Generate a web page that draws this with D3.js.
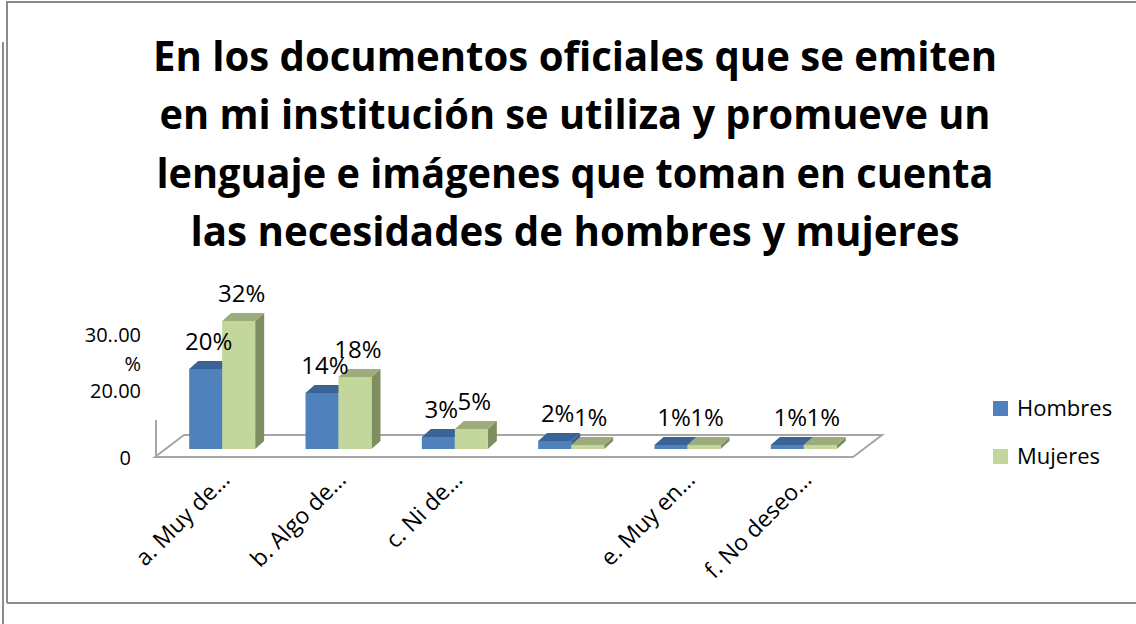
<!DOCTYPE html>
<html>
<head>
<meta charset="utf-8">
<script src="https://cdn.jsdelivr.net/npm/d3@7"></script>
<style>
  html, body { margin: 0; padding: 0; background: #fff; }
  svg { display: block; }
</style>
</head>
<body>
<div id="chart"></div>
<script>
// datos del grafico
const titleLines = [
    "En los documentos oficiales que se emiten",
    "en mi institución se utiliza y promueve un",
    "lenguaje e imágenes que toman en cuenta",
    "las necesidades de hombres y mujeres"
];
const categories = ["a", "b", "c", "d", "e", "f"];
const categoryLabels = ["a. Muy de…", "b. Algo de…", "c. Ni de…", "", "e. Muy en…", "f. No deseo…"];
const series = ["Hombres", "Mujeres"];
const hombres = [20, 14, 3, 2, 1, 1];
const mujeres = [32, 18, 5, 1, 1, 1];
const tickValues = [0, 20, 30];
const tickLabels = ["0", "20.00", "30..00|%"];

const width = 1136, height = 624;
const font = "'Open Sans', 'DejaVu Sans', sans-serif";

const colors = {
    Hombres: { front: "#4F81BD", top: "#3B6496", side: "#395F8F" },
    Mujeres: { front: "#C3D69B", top: "#9CAD7B", side: "#7F8E60" }
};

const svg = d3.select("#chart").append("svg")
    .attr("width", width)
    .attr("height", height);

// marcos
const frame = svg.append("g").attr("fill", "none").attr("stroke", "#8C8C8C").attr("stroke-width", 2);
frame.append("path").attr("d", "M7,603 L7,2 L1136,2");
frame.append("path").attr("d", "M7,603 L1136,603");
frame.append("path").attr("d", "M3,42 L3,624");

// titulo
svg.append("g")
    .selectAll("text")
    .data(titleLines)
    .enter().append("text")
    .attr("x", 575)
    .attr("y", (d, i) => 71 + i * 58.3)
    .attr("text-anchor", "middle")
    .attr("font-family", font)
    .attr("font-weight", "bold")
    .attr("font-size", 42)
    .attr("textLength", (d, i) => [844, 831, 837, 769][i])
    .attr("lengthAdjust", "spacingAndGlyphs")
    .attr("fill", "#000")
    .text(d => d);

// escalas
const depth = { dx: 9, dy: 8 };        // profundidad de las barras
const floorDepth = { dx: 29, dy: 22 }; // profundidad del piso

const x = d3.scaleBand().domain(categories).range([164, 862]);
const barWidth = 33;
const xs = d3.scaleBand().domain(series).range([0, barWidth * 2]);
const y = d3.scaleLinear().domain([0, 35]).range([449, 309]);
const yTick = d3.scaleLinear().domain([0, 20]).range([458, 391]);

// piso
const fx0 = x.range()[0] - depth.dx, fx1 = x.range()[1] - depth.dx;
const fy = y(0) + depth.dy;
const floor = svg.append("g").attr("fill", "none").attr("stroke", "#A6A6A6").attr("stroke-width", 2);
floor.append("path")
    .attr("fill", "#fff")
    .attr("d", `M${fx0},${fy} L${fx1},${fy} L${fx1 + floorDepth.dx},${fy - floorDepth.dy} L${fx0 + floorDepth.dx},${fy - floorDepth.dy} Z`);
floor.append("path")
    .attr("d", `M${fx0 + 1},${fy} L${fx0 + 1},${fy - 37}`);

// barras
const rows = categories.map((c, i) => ({ cat: c, values: [hombres[i], mujeres[i]] }));

function barX(cat, s) {
    return x(cat) + (x.bandwidth() - barWidth * 2) / 2 + xs(s);
}

const groups = svg.append("g").selectAll("g")
    .data(rows)
    .enter().append("g");

groups.each(function (row) {
    const g = d3.select(this);
    series.forEach((s, j) => {
        const x0 = barX(row.cat, s), x1 = x0 + barWidth;
        const top = y(row.values[j]), bot = y(0);
        const c = colors[s];
        g.append("path")
            .attr("fill", c.side)
            .attr("d", `M${x1},${top} L${x1 + depth.dx},${top - depth.dy} L${x1 + depth.dx},${bot - depth.dy} L${x1},${bot} Z`);
        g.append("path")
            .attr("fill", c.top)
            .attr("d", `M${x0},${top} L${x0 + depth.dx},${top - depth.dy} L${x1 + depth.dx},${top - depth.dy} L${x1},${top} Z`);
        g.append("rect")
            .attr("x", x0)
            .attr("y", top)
            .attr("width", barWidth)
            .attr("height", bot - top)
            .attr("fill", c.front);
    });
});

// etiquetas de datos
groups.each(function (row) {
    const g = d3.select(this);
    series.forEach((s, j) => {
        g.append("text")
            .attr("x", barX(row.cat, s) + barWidth / 2 + 3)
            .attr("y", y(row.values[j]) - 19)
            .attr("text-anchor", "middle")
            .attr("font-family", font)
            .attr("font-size", 24)
            .attr("fill", "#000")
            .text(row.values[j] + "%");
    });
});

// eje vertical
const ticks = svg.append("g")
    .attr("font-family", font)
    .attr("font-size", 20)
    .attr("fill", "#000")
    .attr("text-anchor", "end");
tickValues.forEach((v, i) => {
    const parts = tickLabels[i].split("|");
    const t = ticks.append("text")
        .attr("x", v === 0 ? 131 : 141)
        .attr("y", yTick(v) + 7 - (parts.length - 1) * 23);
    parts.forEach((p, k) => {
        t.append("tspan")
            .attr("x", v === 0 ? 131 : 141)
            .attr("dy", k === 0 ? 0 : 29)
            .text(p);
    });
});

// etiquetas de categorias
svg.append("g")
    .selectAll("text")
    .data(categories)
    .enter().append("text")
    .attr("transform", d => `translate(${x(d) + x.bandwidth() / 2 + 9},${481}) rotate(-45)`)
    .attr("text-anchor", "end")
    .attr("font-family", font)
    .attr("font-size", 23)
    .attr("fill", "#000")
    .text((d, i) => categoryLabels[i]);

// leyenda
const legend = svg.append("g")
    .selectAll("g")
    .data(series)
    .enter().append("g")
    .attr("transform", (d, i) => `translate(993,${401 + i * 48})`);
legend.append("rect")
    .attr("width", 15)
    .attr("height", 15)
    .attr("fill", d => colors[d].front);
legend.append("text")
    .attr("x", 24)
    .attr("y", 15)
    .attr("font-family", font)
    .attr("font-size", 22)
    .attr("fill", "#000")
    .text(d => d);
</script>
</body>
</html>
